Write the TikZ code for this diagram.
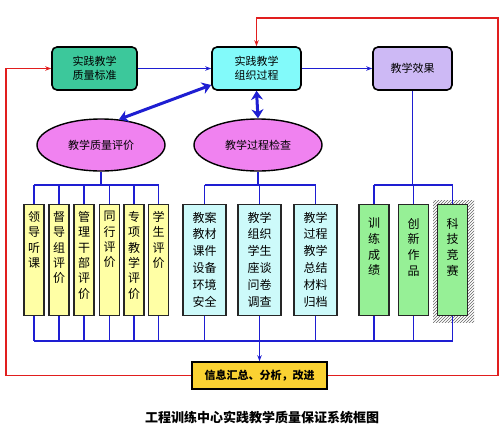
\documentclass[tikz,border=0pt]{standalone}
\usepackage{fontspec}
\setmainfont{Noto Sans CJK SC}
\usetikzlibrary{shapes.geometric, arrows.meta, positioning, calc, patterns}
\definecolor{stdgreen}{RGB}{60, 200, 155}
\definecolor{proccyan}{RGB}{130, 250, 250}
\definecolor{efflilac}{RGB}{205, 185, 245}
\definecolor{evalpink}{RGB}{240, 130, 240}
\definecolor{colyellow}{RGB}{255, 255, 165}
\definecolor{colcyan}{RGB}{205, 250, 250}
\definecolor{colgreen}{RGB}{150, 240, 150}
\definecolor{infogold}{RGB}{250, 210, 50}
\definecolor{busblue}{RGB}{30, 30, 210}
\definecolor{backred}{RGB}{225, 30, 30}
\newcommand{\colstack}[3][12pt]{\parbox[c][#2][t]{#1}{\centering #3}}

\begin{document}
\begin{tikzpicture}[x=1pt, y=-1pt,
  topbox/.style={draw, line width=1.6pt, rounded corners=5pt, minimum height=43pt, inner sep=0pt, align=center, font=\fontsize{11}{14}\selectfont},
  evalell/.style={ellipse, draw, line width=1.4pt, fill=evalpink, minimum width=128pt, minimum height=52pt, inner sep=0pt, font=\fontsize{11}{14}\selectfont},
  colbox/.style={draw=black!85, line width=1.1pt, inner sep=0pt, minimum height=111pt, font=\fontsize{12}{15.3}\selectfont},
  ybox/.style={colbox, fill=colyellow, minimum width=20pt},
  cbox/.style={colbox, fill=colcyan, minimum width=43pt, font=\fontsize{12}{16.8}\selectfont},
  gbox/.style={colbox, fill=colgreen, minimum width=30pt, font=\fontsize{12}{15.7}\selectfont},
  bus/.style={busblue, line width=1.5pt},
  fatarrow/.style={busblue, line width=3pt, {Stealth[length=9pt, width=12pt]}-{Stealth[length=9pt, width=12pt]}},
  feedback/.style={backred, line width=1.8pt}]
  \useasboundingbox (0,0) rectangle (500,432);

  % Top row
  \node[topbox, fill=stdgreen, minimum width=85pt] (std) at (94.5,68.5) {实践教学\\质量标准};
  \node[topbox, fill=proccyan, minimum width=89pt] (proc) at (256.5,68.5) {实践教学\\组织过程};
  \node[topbox, fill=efflilac, minimum width=79pt] (eff) at (412.5,68.5) {教学效果};
  \draw[bus, -{Stealth[length=6pt]}] (std) -- (proc);
  \draw[bus, -{Stealth[length=6pt]}] (proc) -- (eff);

  % Evaluation and inspection
  \node[evalell] (qeval) at (101,145) {教学质量评价};
  \node[evalell] (pcheck) at (258,145) {教学过程检查};
  \draw[fatarrow] (proc.200) -- (qeval.55);
  \draw[fatarrow] (proc.south) -- (pcheck.north);

  % Columns
  \fill[pattern=north east lines, pattern color=gray!80!black] (433,200) rectangle (474,322);
  \node[ybox] (lead) at (34,260) {\colstack{97pt}{领\\导\\听\\课}};
  \node[ybox] (super) at (59,260) {\colstack{97pt}{督\\导\\组\\评\\价}};
  \node[ybox] (admin) at (84,260) {\colstack{97pt}{管\\理\\干\\部\\评\\价}};
  \node[ybox] (peer) at (109.5,260) {\colstack{97pt}{同\\行\\评\\价}};
  \node[ybox] (spec) at (134,260) {\colstack{97pt}{专\\项\\教\\学\\评\\价}};
  \node[ybox] (stud) at (158.5,260) {\colstack{97pt}{学\\生\\评\\价}};
  \node[cbox] (material) at (204.5,260) {\colstack[26pt]{96pt}{教案\\教材\\课件\\设备\\环境\\安全}};
  \node[cbox] (survey) at (259.5,260) {\colstack[26pt]{96pt}{教学\\组织\\学生\\座谈\\问卷\\调查}};
  \node[cbox] (archive) at (315.5,260) {\colstack[26pt]{96pt}{教学\\过程\\教学\\总结\\材料\\归档}};
  \node[gbox] (train) at (374,260) {\colstack{84pt}{训\\练\\成\\绩}};
  \node[gbox] (works) at (413.5,260) {\colstack{84pt}{创\\新\\作\\品}};
  \node[gbox] (race) at (452.5,260) {\colstack{84pt}{科\\技\\竞\\赛}};

  % Upper buses
  \coordinate (topbus) at (0,185);
  \draw[bus] (qeval.south) -- (qeval.south |- topbus);
  \draw[bus] (lead.north |- topbus) -- (stud.north |- topbus);
  \foreach \c in {lead, super, admin, peer, spec, stud}
    \draw[bus] (\c.north) -- (\c.north |- topbus);
  \draw[bus] (pcheck.south) -- (pcheck.south |- topbus);
  \draw[bus] (material.north |- topbus) -- (archive.north |- topbus);
  \foreach \c in {material, survey, archive}
    \draw[bus] (\c.north) -- (\c.north |- topbus);
  \draw[bus] (eff.south) -- (eff.south |- topbus);
  \draw[bus] (train.north |- topbus) -- (race.north |- topbus);
  \foreach \c in {train, works, race}
    \draw[bus] (\c.north) -- (\c.north |- topbus);

  % Lower bus
  \node[draw, line width=1.6pt, fill=infogold, minimum width=135pt, minimum height=27pt, inner sep=0pt, font=\bfseries\fontsize{11}{14}\selectfont] (info) at (259.5,375.5) {信息汇总、分析，改进};
  \coordinate (botbus) at (0,341);
  \foreach \c in {lead, super, admin, peer, spec, stud, material, survey, archive, train, works, race}
    \draw[bus] (\c.south) -- (\c.south |- botbus);
  \draw[bus] (lead.south |- botbus) -- (race.south |- botbus);
  \draw[bus, -{Stealth[length=6pt]}] (info.north |- botbus) -- (info.north);

  % Feedback
  \coordinate (rcorner) at (498,18);
  \coordinate (lside) at (6,0);
  \draw[feedback, -{Stealth[length=6pt]}] (info.east) -| (rcorner) -| (proc.north);
  \draw[feedback, -{Stealth[length=6pt]}] (info.west) -| (lside |- std.west) -- (std.west);

  \node[font=\bfseries\fontsize{13}{15}\selectfont] (title) at (262,418) {工程训练中心实践教学质量保证系统框图};
\end{tikzpicture}
\end{document}
